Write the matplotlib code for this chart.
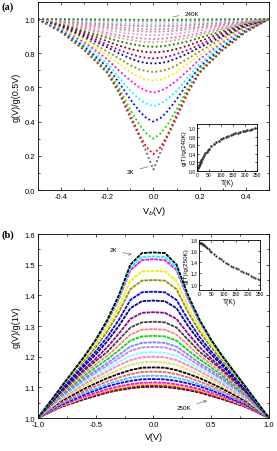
import numpy as np
import matplotlib.pyplot as plt
from matplotlib.ticker import MultipleLocator

plt.rcParams['font.family'] = ['Liberation Sans', 'DejaVu Sans']

# ---------------- panel (a): g(V)/g(0.5V), read at |V|, symmetric in bias
va_abs = [0, 0.03, 0.06, 0.1, 0.15, 0.2, 0.3, 0.4, 0.5]
curves_a = [
    [0.12, 0.22, 0.31, 0.42, 0.57, 0.685, 0.82, 0.925, 1.0],   # 2K
    [0.21, 0.25, 0.32, 0.44, 0.58, 0.69, 0.82, 0.925, 1.0],
    [0.30, 0.33, 0.38, 0.47, 0.60, 0.70, 0.83, 0.93, 1.0],
    [0.40, 0.42, 0.46, 0.53, 0.63, 0.72, 0.84, 0.935, 1.0],
    [0.49, 0.505, 0.53, 0.58, 0.66, 0.74, 0.85, 0.94, 1.0],
    [0.57, 0.58, 0.60, 0.64, 0.70, 0.765, 0.865, 0.945, 1.0],
    [0.64, 0.645, 0.66, 0.69, 0.74, 0.79, 0.875, 0.95, 1.0],
    [0.69, 0.695, 0.705, 0.73, 0.77, 0.81, 0.89, 0.955, 1.0],
    [0.74, 0.743, 0.75, 0.77, 0.80, 0.835, 0.90, 0.96, 1.0],
    [0.77, 0.773, 0.78, 0.795, 0.82, 0.85, 0.91, 0.965, 1.0],
    [0.805, 0.807, 0.813, 0.825, 0.845, 0.87, 0.92, 0.97, 1.0],
    [0.838, 0.84, 0.845, 0.855, 0.87, 0.89, 0.93, 0.972, 1.0],
    [0.864, 0.866, 0.87, 0.878, 0.89, 0.905, 0.94, 0.976, 1.0],
    [0.883, 0.885, 0.888, 0.895, 0.905, 0.918, 0.947, 0.978, 1.0],
    [0.906, 0.907, 0.91, 0.915, 0.924, 0.934, 0.955, 0.98, 1.0],
    [0.926, 0.927, 0.929, 0.933, 0.94, 0.948, 0.964, 0.983, 1.0],
    [0.94, 0.941, 0.943, 0.946, 0.951, 0.957, 0.97, 0.986, 1.0],
    [0.957, 0.958, 0.959, 0.961, 0.965, 0.969, 0.978, 0.989, 1.0],
    [0.97, 0.97, 0.971, 0.973, 0.975, 0.978, 0.984, 0.992, 1.0],
    [0.985, 0.985, 0.986, 0.987, 0.988, 0.989, 0.992, 0.996, 1.0],
    [0.996, 0.996, 0.996, 0.997, 0.997, 0.998, 0.999, 1.0, 1.0],  # 240K
]
colors_a = ['#606060', 'red', '#00e000', 'blue', 'cyan', 'magenta', '#f0f000',
            '#909000', '#000090', '#900090', '#900000', '#008000', '#f0a060',
            '#c080e0', '#ff90c0', '#a0a0a0', '#ff8080', '#8090c0', '#d0b0e0',
            '#90c090', '#208020']

# inset (a): zero-bias g(T)/g(240K)
t_a = [2, 4, 6, 8, 10, 12, 14, 16, 18, 20, 25, 30, 35, 40, 45, 50, 60, 70, 80,
       90, 100, 110, 120, 130, 140, 150, 160, 170, 180, 190, 200, 210, 220, 230, 240]
g_a = [0.03, 0.06, 0.09, 0.12, 0.15, 0.17, 0.2, 0.22, 0.25, 0.27, 0.32, 0.37,
       0.41, 0.45, 0.49, 0.52, 0.58, 0.63, 0.67, 0.71, 0.74, 0.77, 0.79, 0.82,
       0.84, 0.86, 0.88, 0.9, 0.91, 0.93, 0.94, 0.96, 0.97, 0.98, 1.0]

# ---------------- panel (b): g(V)/g(1V), read at |V|
vb_abs = [0, 0.1, 0.2, 0.3, 0.4, 0.5, 0.6, 0.8, 1.0]
curves_b = [
    [1.540, 1.538, 1.500, 1.400, 1.320, 1.255, 1.200, 1.100, 1.0],  # 2K
    [1.527, 1.525, 1.490, 1.393, 1.316, 1.253, 1.200, 1.101, 1.0],
    [1.518, 1.515, 1.482, 1.388, 1.313, 1.252, 1.200, 1.102, 1.0],
    [1.480, 1.478, 1.447, 1.364, 1.296, 1.240, 1.192, 1.099, 1.0],
    [1.450, 1.448, 1.420, 1.345, 1.282, 1.230, 1.186, 1.097, 1.0],
    [1.412, 1.410, 1.385, 1.320, 1.264, 1.217, 1.176, 1.092, 1.0],
    [1.383, 1.381, 1.358, 1.300, 1.250, 1.207, 1.169, 1.089, 1.0],
    [1.345, 1.343, 1.323, 1.275, 1.231, 1.194, 1.159, 1.086, 1.0],
    [1.314, 1.312, 1.295, 1.255, 1.216, 1.186, 1.154, 1.084, 1.0],
    [1.290, 1.288, 1.272, 1.237, 1.203, 1.175, 1.145, 1.079, 1.0],
    [1.268, 1.266, 1.252, 1.221, 1.191, 1.165, 1.137, 1.076, 1.0],
    [1.247, 1.245, 1.233, 1.206, 1.179, 1.155, 1.129, 1.072, 1.0],
    [1.232, 1.230, 1.219, 1.195, 1.171, 1.148, 1.124, 1.069, 1.0],
    [1.215, 1.213, 1.203, 1.183, 1.161, 1.140, 1.117, 1.066, 1.0],
    [1.200, 1.198, 1.189, 1.172, 1.152, 1.132, 1.111, 1.063, 1.0],
    [1.183, 1.181, 1.173, 1.158, 1.141, 1.123, 1.104, 1.059, 1.0],
    [1.165, 1.164, 1.156, 1.144, 1.130, 1.113, 1.095, 1.055, 1.0],
    [1.151, 1.150, 1.143, 1.132, 1.119, 1.104, 1.087, 1.050, 1.0],
    [1.138, 1.137, 1.131, 1.122, 1.110, 1.096, 1.081, 1.047, 1.0],
    [1.127, 1.126, 1.121, 1.113, 1.103, 1.090, 1.076, 1.044, 1.0],
    [1.116, 1.115, 1.110, 1.103, 1.094, 1.082, 1.070, 1.041, 1.0],
    [1.111, 1.110, 1.105, 1.099, 1.090, 1.079, 1.067, 1.039, 1.0],
    [1.106, 1.105, 1.101, 1.094, 1.086, 1.075, 1.064, 1.037, 1.0],
    [1.102, 1.101, 1.097, 1.091, 1.083, 1.072, 1.061, 1.036, 1.0],  # 250K
]
colors_b = ['black', 'cyan', 'magenta', '#f0f000', '#909000', 'blue', '#000090',
            '#900090', '#404040', '#ff8080', '#00e000', '#8080ff', '#c080ff',
            '#80ffff', '#ff80c0', '#e0e060', 'black', '#ff6060', '#40c0ff',
            'blue', 'magenta', '#f0f000', 'red', '#000060']

# inset (b): g(T)/g(250K)
t_b = [2, 4, 6, 8, 10, 12, 15, 18, 20, 25, 30, 35, 40, 45, 50, 60, 70, 80, 90,
       100, 110, 120, 130, 140, 150, 160, 170, 180, 190, 200, 210, 220, 230, 240, 250]
g_b = [1.75, 1.75, 1.75, 1.745, 1.74, 1.735, 1.725, 1.715, 1.71, 1.69, 1.67,
       1.65, 1.63, 1.61, 1.59, 1.55, 1.52, 1.48, 1.45, 1.42, 1.39, 1.37, 1.34,
       1.32, 1.29, 1.27, 1.25, 1.23, 1.20, 1.18, 1.16, 1.13, 1.11, 1.095, 1.08]


def mirror(xs, ys):
    x = np.concatenate([-np.array(xs[::-1]), np.array(xs[1:])])
    y = np.concatenate([np.array(ys[::-1]), np.array(ys[1:])])
    return x, y


def style(ax, size=5.5, length=2.5):
    for s in ax.spines.values():
        s.set_linewidth(0.6)
    ax.tick_params(which='both', direction='in', top=True, right=True,
                   labelsize=size, width=0.5, pad=2)
    ax.tick_params(which='major', length=length)
    ax.tick_params(which='minor', length=length * 0.6)


fig = plt.figure(figsize=(2.77, 4.52), dpi=100)

# ---- (a)
ax1 = fig.add_axes([0.137, 0.5774, 0.834, 0.416])
for row, c in zip(curves_a, colors_a):
    x, y = mirror(va_abs, row)
    ax1.plot(x, y, color=c, lw=1.3, ls=(0, (1, 1.4)))
ax1.set_xlim(-0.5, 0.5)
ax1.set_ylim(0, 1.1)
ax1.xaxis.set_minor_locator(MultipleLocator(0.1))
ax1.yaxis.set_major_locator(MultipleLocator(0.2))
ax1.yaxis.set_minor_locator(MultipleLocator(0.1))
ax1.set_xticks([-0.4, -0.2, 0.0, 0.2, 0.4])
ax1.set_xticklabels(['-0.4', '-0.2', '0.0', '0.2', '0.4'])
style(ax1)
ax1.set_xlabel('V$_b$(V)', fontsize=6.5, labelpad=3)
ax1.set_ylabel('g(V)/g(0.5V)', fontsize=6.5, labelpad=3)
ax1.annotate('240K', xy=(0.073, 1.01), xytext=(0.135, 1.035), fontsize=4.5,
             va='center', arrowprops=dict(arrowstyle='-', lw=0.4, color='#555555'))
ax1.annotate('2K', xy=(-0.013, 0.14), xytext=(-0.115, 0.11), fontsize=4.5,
             va='center', arrowprops=dict(arrowstyle='-', lw=0.4, color='#555555'))
fig.text(0.005, 0.985, '(a)', fontsize=7.5, fontweight='bold',
         family='Liberation Serif', va='center')

ins1 = fig.add_axes([0.711, 0.6195, 0.217, 0.104])
ins1.plot(t_a, g_a, ls='none', marker='s', ms=0.8, color='#333333')
ins1.set_xlim(0, 250)
ins1.set_ylim(0, 1.1)
ins1.set_xticks([0, 50, 100, 150, 200, 250])
ins1.set_yticks([0.0, 0.2, 0.4, 0.6, 0.8, 1.0])
style(ins1, size=3.6, length=1.5)
ins1.tick_params(pad=1)
ins1.set_xlabel('T(K)', fontsize=4.8, labelpad=1)
ins1.set_ylabel('g(T)/g(240K)', fontsize=4.5, labelpad=1)

# ---- (b)
ax2 = fig.add_axes([0.137, 0.073, 0.834, 0.407])
for row, c in zip(curves_b[::-1], colors_b[::-1]):
    x, y = mirror(vb_abs, row)
    ax2.plot(x, y, color=c, lw=1.3, ls=(0, (2, 0.5)))
ax2.set_xlim(-1.0, 1.0)
ax2.set_ylim(1.0, 1.6)
ax2.xaxis.set_minor_locator(MultipleLocator(0.25))
ax2.yaxis.set_major_locator(MultipleLocator(0.1))
ax2.yaxis.set_minor_locator(MultipleLocator(0.05))
ax2.set_xticks([-1.0, -0.5, 0.0, 0.5, 1.0])
ax2.set_xticklabels(['-1.0', '-0.5', '0.0', '0.5', '1.0'])
style(ax2)
ax2.set_xlabel('V(V)', fontsize=6.5, labelpad=3)
ax2.set_ylabel('g(V)/g(1V)', fontsize=6.5, labelpad=3)
ax2.annotate('2K', xy=(-0.165, 1.53), xytext=(-0.38, 1.548), fontsize=4.5,
             va='center', arrowprops=dict(arrowstyle='->', lw=0.4, color='#555555'))
ax2.annotate('250K', xy=(0.485, 1.059), xytext=(0.2, 1.033), fontsize=4.5,
             va='center', arrowprops=dict(arrowstyle='->', lw=0.4, color='#555555'))
fig.text(0.005, 0.48, '(b)', fontsize=7.5, fontweight='bold',
         family='Liberation Serif', va='center')

ins2 = fig.add_axes([0.718, 0.356, 0.222, 0.111])
ins2.plot(t_b, g_b, ls='none', marker='s', ms=0.6, color='#333333')
ins2.set_xlim(0, 250)
ins2.set_ylim(0.9, 1.8)
ins2.set_xticks([0, 50, 100, 150, 200, 250])
ins2.set_yticks([1.0, 1.2, 1.4, 1.6, 1.8])
style(ins2, size=3.6, length=1.5)
ins2.tick_params(pad=1)
ins2.set_xlabel('T(K)', fontsize=4.8, labelpad=1)
ins2.set_ylabel('g(T)/g(250K)', fontsize=4.5, labelpad=1)

fig.savefig('out.png', dpi=100)
